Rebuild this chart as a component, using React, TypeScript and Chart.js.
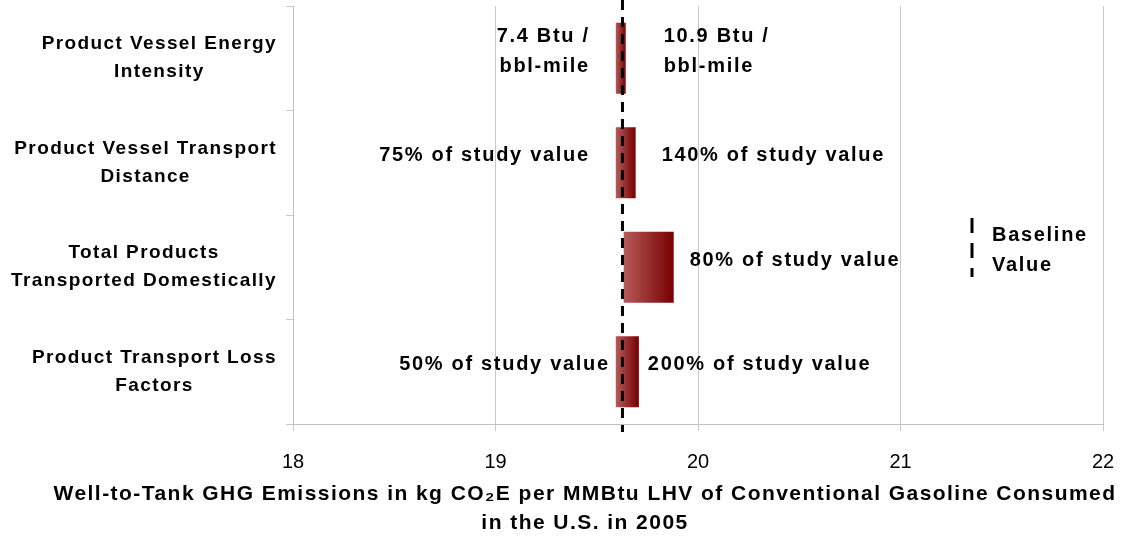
import React, { useEffect, useRef } from 'react';
import { Chart, registerables } from 'chart.js';

Chart.register(...registerables);

// ---- data ----
const categories = [
  'Product Vessel Energy Intensity',
  'Product Vessel Transport Distance',
  'Total Products Transported Domestically',
  'Product Transport Loss Factors',
];
const categoryLines = [
  ['Product Vessel Energy', 'Intensity'],
  ['Product Vessel Transport', 'Distance'],
  ['Total Products', 'Transported Domestically'],
  ['Product Transport Loss', 'Factors'],
];
const lowValues = [19.594, 19.594, 19.633, 19.594];
const highValues = [19.643, 19.692, 19.88, 19.708];
const baselineValue = 19.627;
const lowLabels = [['7.4 Btu /', 'bbl-mile'], ['75% of study value'], [], ['50% of study value']];
const highLabels = [['10.9 Btu /', 'bbl-mile'], ['140% of study value'], ['80% of study value'], ['200% of study value']];
const xMin = 18;
const xMax = 22;
const xStep = 1;
const xTitleLines = [
  'Well-to-Tank GHG Emissions in kg CO\u2082E per MMBtu LHV of Conventional Gasoline Consumed',
  'in the U.S. in 2005',
];
const legendLines = ['Baseline', 'Value'];

// ---- style ----
const FONT = '"Liberation Sans", Arial, sans-serif';
const lowGap = [26, 26, 0, 6];
const highGap = [38, 26, 16, 9];

const overlayPlugin = {
  id: 'overlay',
  beforeDatasetsDraw(chart: any) {
    const meta = chart.getDatasetMeta(0);
    meta.data.forEach((el: any) => {
      const x0 = Math.min(el.base, el.x);
      const x1 = Math.max(el.base, el.x);
      if (!isFinite(x0) || !isFinite(x1)) return;
      const g = chart.ctx.createLinearGradient(x0, 0, x1, 0);
      g.addColorStop(0, '#b65a5a');
      g.addColorStop(1, '#780000');
      el.options = Object.assign({}, el.options, { backgroundColor: g });
    });
  },
  afterDatasetsDraw(chart: any) {
    const { ctx, chartArea, scales } = chart;
    const bx = scales.x.getPixelForValue(baselineValue);
    ctx.save();
    ctx.strokeStyle = '#000';
    ctx.lineWidth = 3;
    ctx.setLineDash([10, 7]);
    ctx.beginPath();
    ctx.moveTo(bx, 0);
    ctx.lineTo(bx, chartArea.bottom + 8);
    ctx.stroke();
    ctx.restore();
  },
  afterDraw(chart: any) {
    const { ctx, scales } = chart;
    const x = scales.x;
    const y = scales.y;
    ctx.save();
    ctx.fillStyle = '#000';
    const setLS = (v: string) => {
      try { (ctx as any).letterSpacing = v; } catch (e) {}
    };

    // category labels (centered block, right aligned to axis)
    setLS('1.4px');
    ctx.font = `bold 19px ${FONT}`;
    ctx.textBaseline = 'middle';
    ctx.textAlign = 'left';
    categoryLines.forEach((lines, i) => {
      const cy = y.getPixelForValue(i);
      const widths = lines.map((l) => ctx.measureText(l).width);
      const bw = Math.max(...widths);
      const right = 277;
      const centerX = right - bw / 2;
      const lh = 28;
      lines.forEach((l, j) => {
        const ly = cy + (j - (lines.length - 1) / 2) * lh;
        ctx.fillText(l, centerX - widths[j] / 2, ly);
      });
    });

    // bar labels
    setLS('1.7px');
    ctx.font = `bold 20px ${FONT}`;
    const lh2 = 30;
    categories.forEach((_, i) => {
      const cy = y.getPixelForValue(i) - 7;
      const xl = x.getPixelForValue(lowValues[i]);
      const xr = x.getPixelForValue(highValues[i]);
      const ll = lowLabels[i];
      ctx.textAlign = 'right';
      ll.forEach((t, j) => {
        ctx.fillText(t, xl - lowGap[i], cy + (j - (ll.length - 1) / 2) * lh2);
      });
      const hl = highLabels[i];
      ctx.textAlign = 'left';
      hl.forEach((t, j) => {
        ctx.fillText(t, xr + highGap[i], cy + (j - (hl.length - 1) / 2) * lh2);
      });
    });

    // legend
    ctx.textAlign = 'left';
    legendLines.forEach((t, j) => ctx.fillText(t, 992, 235 + j * 30));
    ctx.strokeStyle = '#000';
    ctx.lineWidth = 3;
    ctx.setLineDash([15, 10]);
    ctx.beginPath();
    ctx.moveTo(972, 218);
    ctx.lineTo(972, 277);
    ctx.stroke();
    ctx.setLineDash([]);

    // x title
    setLS('1.45px');
    ctx.font = `bold 21px ${FONT}`;
    ctx.textAlign = 'center';
    xTitleLines.forEach((t, j) => ctx.fillText(t, 585, 494 + j * 29));
    ctx.restore();
  },
};

export default function App() {
  const ref = useRef<HTMLCanvasElement>(null);
  useEffect(() => {
    document.body.style.margin = '0';
    const canvas = ref.current;
    if (!canvas) return;
    const chart = new Chart(canvas, {
      type: 'bar',
      data: {
        labels: categories,
        datasets: [
          {
            data: lowValues.map((v, i) => [v, highValues[i]]) as any,
            backgroundColor: () => '#9a2a2a',
            borderWidth: 0,
            borderSkipped: false,
            barPercentage: 0.68,
            categoryPercentage: 1,
          },
        ],
      },
      options: {
        indexAxis: 'y',
        responsive: true,
        maintainAspectRatio: false,
        animation: false,
        layout: { padding: { top: 6, right: 21, bottom: 0, left: 0 } },
        plugins: { legend: { display: false }, tooltip: { enabled: false }, title: { display: false } },
        scales: {
          x: {
            type: 'linear',
            min: xMin,
            max: xMax,
            ticks: {
              stepSize: xStep,
              color: '#000',
              font: { family: FONT, size: 20 },
              padding: 19,
            },
            grid: { color: '#c8c8c8', lineWidth: 1, tickLength: 7 },
            border: { color: '#c0c0c0' },
            afterFit: (s: any) => {
              s.height = 117;
              s.paddingLeft = 0;
              s.paddingRight = 0;
            },
          },
          y: {
            type: 'category',
            ticks: { display: false },
            grid: { drawOnChartArea: false, offset: true, tickLength: 7, color: '#c8c8c8' },
            border: { color: '#c0c0c0' },
            afterFit: (s: any) => {
              s.width = 293;
            },
          },
        },
      },
      plugins: [overlayPlugin],
    });
    return () => chart.destroy();
  }, []);
  return (
    <div style={{ width: 1124, height: 541, position: 'relative' }}>
      <canvas ref={ref} />
    </div>
  );
}
